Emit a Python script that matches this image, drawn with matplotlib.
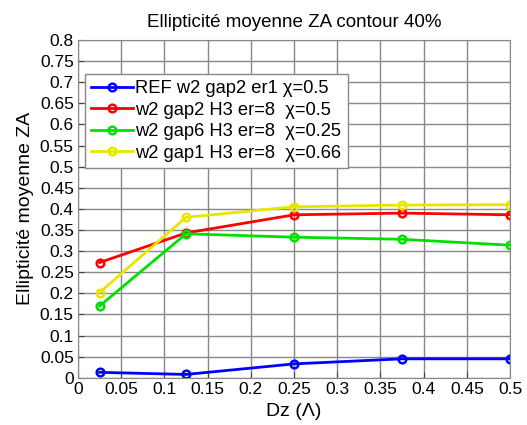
import matplotlib
matplotlib.use("Agg")
import matplotlib.pyplot as plt

plt.rcParams['font.family'] = ['Liberation Sans', 'DejaVu Sans']

dz = [0.025, 0.125, 0.25, 0.375, 0.5]
ref_w2_gap2 = [0.013, 0.008, 0.033, 0.045, 0.045]
w2_gap2_h3 = [0.273, 0.343, 0.386, 0.390, 0.386]
w2_gap6_h3 = [0.170, 0.341, 0.333, 0.328, 0.314]
w2_gap1_h3 = [0.202, 0.380, 0.405, 0.409, 0.410]

series = [
    ("REF w2 gap2 er1 \u03c7=0.5", ref_w2_gap2, "#0000ff"),
    ("w2 gap2 H3 er=8  \u03c7=0.5", w2_gap2_h3, "#ff0000"),
    ("w2 gap6 H3 er=8  \u03c7=0.25", w2_gap6_h3, "#00e000"),
    ("w2 gap1 H3 er=8  \u03c7=0.66", w2_gap1_h3, "#e6e600"),
]

fig = plt.figure(figsize=(5.27, 4.25), dpi=100)
ax = fig.add_axes([0.148, 0.111, 0.820, 0.795])

for label, vals, col in series:
    ax.plot(dz, vals, color=col, lw=2, marker='o', ms=5.5, mfc='none',
            mec=col, mew=1.8, label=label)

ax.set_xlim(0, 0.5)
ax.set_ylim(0, 0.8)
ax.set_xticks([i * 0.05 for i in range(11)])
ax.set_xticklabels(["0", "0.05", "0.1", "0.15", "0.2", "0.25", "0.3",
                    "0.35", "0.4", "0.45", "0.5"])
ax.set_yticks([i * 0.05 for i in range(17)])
ax.set_yticklabels(["0", "0.05", "0.1", "0.15", "0.2", "0.25", "0.3", "0.35",
                    "0.4", "0.45", "0.5", "0.55", "0.6", "0.65", "0.7", "0.75", "0.8"])
ax.tick_params(direction='in', length=4, labelsize=12.5, color='#444444', pad=3)
ax.grid(True, color='#888888', lw=1.0)
ax.set_axisbelow(True)
for s in ax.spines.values():
    s.set_color('#888888')

ax.set_title("Ellipticit\u00e9 moyenne ZA contour 40%", fontsize=13.5, pad=9)
ax.set_xlabel("Dz (\u039b)", fontsize=14)
ax.set_ylabel("Ellipticit\u00e9 moyenne ZA", fontsize=14)

leg = ax.legend(loc='upper left', bbox_to_anchor=(0.016, 0.90), fontsize=13.2,
                fancybox=False, framealpha=1, edgecolor='#888888',
                handlelength=2.3, handletextpad=0.1, borderpad=0.35,
                labelspacing=0.25, borderaxespad=0)

fig.savefig("out.png", dpi=100)
